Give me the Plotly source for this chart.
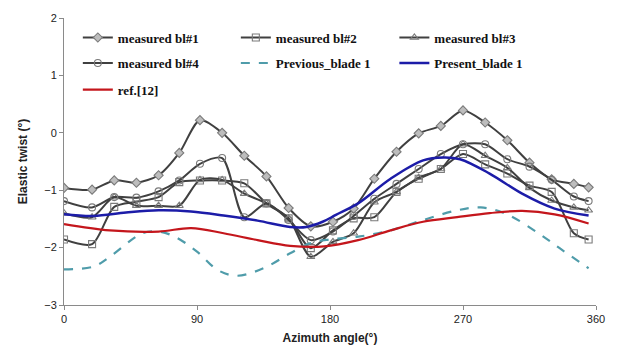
import plotly.graph_objects as go

# Azimuth stations of the blade measurements (deg)
azimuth = [0, 19, 34, 49, 64, 78, 92, 107, 122, 137, 152, 167, 182,
           196, 210, 225, 240, 255, 270, 285, 300, 315, 330, 345, 355]

bl1 = [-0.96, -0.99, -0.83, -0.87, -0.74, -0.35, 0.22, 0.00, -0.40, -0.76, -1.31, -1.63, -1.55,
       -1.32, -0.80, -0.33, -0.01, 0.12, 0.39, 0.18, -0.13, -0.52, -0.81, -0.89, -0.95]
bl2 = [-1.86, -1.94, -1.29, -1.20, -1.12, -0.86, -0.83, -0.83, -0.88, -1.23, -1.49, -2.01, -1.70,
       -1.49, -1.47, -1.03, -0.80, -0.63, -0.37, -0.55, -0.71, -0.92, -1.03, -1.75, -1.86]
bl3 = [-1.40, -1.47, -1.12, -1.27, -1.27, -1.27, -0.82, -0.82, -1.06, -1.23, -1.49, -2.16, -1.90,
       -1.75, -1.21, -1.03, -0.78, -0.63, -0.20, -0.40, -0.61, -0.96, -1.18, -1.30, -1.35]
bl4 = [-1.19, -1.30, -1.12, -1.13, -1.02, -0.83, -0.54, -0.44, -1.47, -1.23, -1.52, -1.87, -1.72,
       -1.45, -1.15, -0.89, -0.63, -0.37, -0.20, -0.20, -0.46, -0.59, -0.82, -1.11, -1.19]

# Predictions
prev_az = [0, 20, 31, 53, 64, 75, 90, 104, 117, 135, 153, 166, 179,
           199, 221, 243, 266, 282, 299, 321, 337, 355]
prev_blade = [-2.38, -2.33, -2.16, -1.75, -1.72, -1.81, -2.07, -2.39, -2.49, -2.36, -2.10, -1.93, -1.86,
              -1.81, -1.70, -1.52, -1.35, -1.30, -1.41, -1.75, -2.04, -2.36]

pres_az = [0, 20, 42, 64, 86, 108, 131, 153, 164, 175, 184,
           199, 221, 243, 257, 268, 288, 310, 332, 355]
pres_blade = [-1.42, -1.45, -1.39, -1.35, -1.37, -1.44, -1.53, -1.64, -1.64, -1.55, -1.43,
              -1.23, -0.80, -0.48, -0.43, -0.46, -0.71, -1.06, -1.32, -1.44]

ref_az = [0, 31, 64, 86, 108, 131, 153, 176, 199, 221, 243, 266, 288, 310, 332, 355]
ref12 = [-1.59, -1.70, -1.72, -1.66, -1.75, -1.87, -1.97, -1.98, -1.87, -1.70, -1.55, -1.47,
         -1.40, -1.36, -1.42, -1.58]

GREY = "#404040"
MK = "#7a7a7a"

fig = go.Figure()

def measured(y, name, symbol, fill, legend):
    fig.add_trace(go.Scatter(
        x=azimuth, y=y, name=name, mode="lines+markers",
        line=dict(color=GREY, width=2, shape="spline", smoothing=0.8),
        marker=dict(symbol=symbol, size=7, color=fill, line=dict(color=MK, width=1.1)),
        legend=legend))

# one legend box per entry so the three-column grid can be placed exactly
measured(bl1, "measured bl#1", "diamond", "#bdbdbd", "legend")
measured(bl2, "measured bl#2", "square-open", MK, "legend2")
measured(bl3, "measured bl#3", "triangle-up-open", MK, "legend3")
measured(bl4, "measured bl#4", "circle-open", MK, "legend4")

fig.add_trace(go.Scatter(
    x=prev_az, y=prev_blade, name="Previous_blade 1", mode="lines",
    line=dict(color="#4f9caa", width=2.2, dash="dash", shape="spline", smoothing=1.0),
    legend="legend5"))
fig.add_trace(go.Scatter(
    x=pres_az, y=pres_blade, name="Present_blade 1", mode="lines",
    line=dict(color="#1c1ca8", width=2.5, shape="spline", smoothing=1.0),
    legend="legend6"))
fig.add_trace(go.Scatter(
    x=ref_az, y=ref12, name="ref.[12]", mode="lines",
    line=dict(color="#c4161c", width=2.2, shape="spline", smoothing=1.0),
    legend="legend7"))

legend_font = dict(family="Liberation Serif", size=13, color="#111111", weight="bold")
common = dict(orientation="v", font=legend_font, bgcolor="rgba(0,0,0,0)",
              xanchor="left", yanchor="middle", itemwidth=30)

col = [0.026, 0.323, 0.621]
row = [0.932, 0.843, 0.750]

fig.update_layout(
    width=617, height=356,
    margin=dict(l=64, r=12, t=17, b=51),
    paper_bgcolor="white", plot_bgcolor="white",
    showlegend=True,
    legend=dict(x=col[0], y=row[0], **common),
    legend2=dict(x=col[1], y=row[0], **common),
    legend3=dict(x=col[2], y=row[0], **common),
    legend4=dict(x=col[0], y=row[1], **common),
    legend5=dict(x=col[1], y=row[1], **common),
    legend6=dict(x=col[2], y=row[1], **common),
    legend7=dict(x=col[0], y=row[2], **common),
    xaxis=dict(range=[0, 360], tickvals=[0, 90, 180, 270, 360],
               showgrid=False, zeroline=False, showline=True, linecolor="#8a8a8a",
               ticks="outside", ticklen=4, tickcolor="#8a8a8a",
               tickfont=dict(family="Liberation Sans", size=11, color="#222222"),
               title=dict(text="<b>Azimuth angle(°)</b>", standoff=9,
                          font=dict(family="Liberation Sans", size=12, color="#222222"))),
    yaxis=dict(range=[-3, 2], dtick=1,
               showgrid=False, zeroline=False, showline=True, linecolor="#8a8a8a",
               ticks="outside", ticklen=4, tickcolor="#8a8a8a",
               tickfont=dict(family="Liberation Sans", size=11, color="#222222"),
               title=dict(text="<b>Elastic twist (°)</b>", standoff=14,
                          font=dict(family="Liberation Sans", size=12, color="#222222"))),
)

fig.write_html("out.html")
